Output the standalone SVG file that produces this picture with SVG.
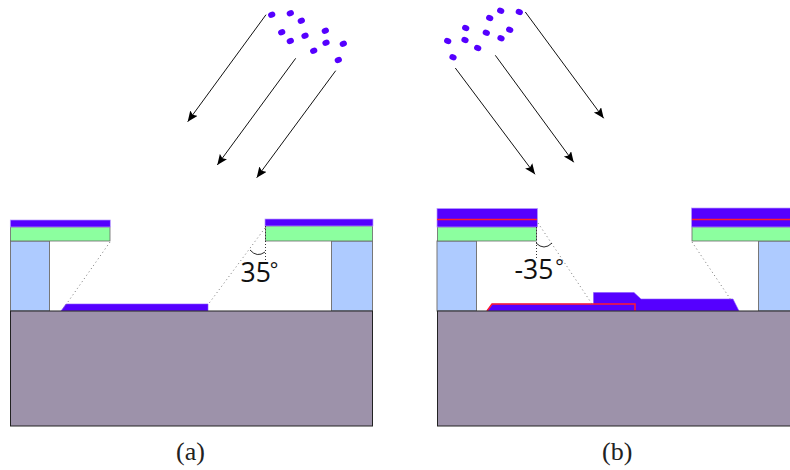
<svg xmlns="http://www.w3.org/2000/svg" width="790" height="470" viewBox="0 0 790 470">
<defs>
<style>
.sub{fill:#9d92aa;stroke:#222;stroke-width:1}
.pil{fill:#aecbff;stroke:#777;stroke-width:1}
.grn{fill:#8cff9f;stroke:#666;stroke-width:.8}
.pur{fill:#5500ff;stroke:#b79aff;stroke-width:.7}
.dep{fill:#5500ff;stroke:#8a55ff;stroke-width:.6}
.red{fill:none;stroke:#ff1a30;stroke-width:1.5}
.dot{fill:none;stroke:#777;stroke-width:1;stroke-dasharray:1 3}
.vdot{fill:none;stroke:#333;stroke-width:1;stroke-dasharray:1 2}
.arc{fill:none;stroke:#111;stroke-width:.9}
.ray{stroke:#111;stroke-width:1;fill:none;marker-end:url(#ah)}
.p{fill:#5500ff}
.ang{font-family:"Open Sans","DejaVu Sans",sans-serif;font-size:26.500px;fill:#111}
.deg{font-size:20px}
.cap{font-family:"Liberation Serif","DejaVu Serif",serif;font-size:26px;fill:#222}
</style>
<marker id="ah" markerUnits="userSpaceOnUse" markerWidth="12" markerHeight="10" refX="10.5" refY="4.5" orient="auto"><path d="M0 0L10.5 4.5L0 9L2 4.5Z" fill="#000"/></marker>
</defs>
<g id="connectors">
<path class="ray" d="M266 14.7L187.700 121.700"/>
<path class="ray" d="M295.700 58.300L217.300 165"/>
<path class="ray" d="M335.700 70.700L256.700 177.700"/>
<path class="ray" d="M525.300 12L603.700 118.300"/>
<path class="ray" d="M495.300 55.300L573.700 162.300"/>
<path class="ray" d="M455.300 68L535 174.300"/>
</g>
<g id="particles-a">
<ellipse class="p" cx="271.700" cy="14.700" rx="3.700" ry="3" transform="rotate(-20 271.700 14.700)"/>
<ellipse class="p" cx="290.300" cy="13.300" rx="3.700" ry="3" transform="rotate(-20 290.300 13.300)"/>
<ellipse class="p" cx="301.300" cy="20.700" rx="3.700" ry="3" transform="rotate(-20 301.300 20.700)"/>
<ellipse class="p" cx="281.700" cy="32.300" rx="3.700" ry="3" transform="rotate(-20 281.700 32.300)"/>
<ellipse class="p" cx="305" cy="35.700" rx="3.700" ry="3" transform="rotate(-20 305 35.700)"/>
<ellipse class="p" cx="290.300" cy="41" rx="3.700" ry="3" transform="rotate(-20 290.300 41)"/>
<ellipse class="p" cx="325.300" cy="30.700" rx="3.700" ry="3" transform="rotate(-20 325.300 30.700)"/>
<ellipse class="p" cx="326" cy="42.700" rx="3.700" ry="3" transform="rotate(-20 326 42.700)"/>
<ellipse class="p" cx="313.700" cy="50.700" rx="3.700" ry="3" transform="rotate(-20 313.700 50.700)"/>
<ellipse class="p" cx="343.300" cy="43.700" rx="3.700" ry="3" transform="rotate(-20 343.300 43.700)"/>
<ellipse class="p" cx="338.300" cy="60" rx="3.700" ry="3" transform="rotate(-20 338.300 60)"/>
</g>
<g id="particles-b">
<ellipse class="p" cx="519.300" cy="12" rx="3.700" ry="3" transform="rotate(20 519.300 12)"/>
<ellipse class="p" cx="500.700" cy="10.700" rx="3.700" ry="3" transform="rotate(20 500.700 10.700)"/>
<ellipse class="p" cx="489.700" cy="18" rx="3.700" ry="3" transform="rotate(20 489.700 18)"/>
<ellipse class="p" cx="465.700" cy="28" rx="3.700" ry="3" transform="rotate(20 465.700 28)"/>
<ellipse class="p" cx="486.300" cy="32.700" rx="3.700" ry="3" transform="rotate(20 486.300 32.700)"/>
<ellipse class="p" cx="509.700" cy="29.700" rx="3.700" ry="3" transform="rotate(20 509.700 29.700)"/>
<ellipse class="p" cx="501" cy="38.300" rx="3.700" ry="3" transform="rotate(20 501 38.300)"/>
<ellipse class="p" cx="465" cy="40" rx="3.700" ry="3" transform="rotate(20 465 40)"/>
<ellipse class="p" cx="477.700" cy="48" rx="3.700" ry="3" transform="rotate(20 477.700 48)"/>
<ellipse class="p" cx="447.700" cy="41" rx="3.700" ry="3" transform="rotate(20 447.700 41)"/>
<ellipse class="p" cx="453" cy="57.300" rx="3.700" ry="3" transform="rotate(20 453 57.300)"/>
</g>
<g id="panel-a">
<rect class="pil" x="10.500" y="241" width="39" height="70"/>
<rect class="pil" x="331.500" y="241" width="41" height="70"/>
<rect class="grn" x="10.500" y="227" width="99.500" height="14"/>
<rect class="grn" x="265.500" y="226" width="107" height="15"/>
<rect class="pur" x="10.300" y="220" width="100" height="7"/>
<rect class="pur" x="265" y="219" width="108" height="7"/>
<path class="dep" d="M61 311L66 304L208 304L208 311Z"/>
<rect class="sub" x="10.500" y="311" width="362" height="115"/>
<path class="dot" d="M110 242L63 309"/>
<path class="dot" d="M265 228L208.500 304"/>
<path class="vdot" d="M265.500 226V263"/>
<path class="arc" d="M250 250Q257 258 265 252"/>
<text class="ang" x="240.500" y="281.500">35<tspan class="deg" dx="-1" dy="-5">°</tspan></text>
<text class="cap" x="176" y="460">(a)</text>
</g>
<g id="panel-b">
<rect class="pil" x="437" y="241" width="39.500" height="70"/>
<rect class="pil" x="758.500" y="241" width="40" height="70"/>
<rect class="grn" x="437.500" y="227" width="99" height="14"/>
<rect class="grn" x="692" y="227" width="106" height="14"/>
<rect class="pur" x="437" y="208.500" width="100.500" height="18.500"/>
<rect class="pur" x="691.500" y="208" width="106" height="19"/>
<path class="red" d="M437 219.500H537"/>
<path class="red" d="M692 219.500H790"/>
<path class="dep" d="M487 311L492 304H593.500V292.500H634L641 299H733L739 311Z"/>
<path class="red" d="M487 311L492 304H635V311"/>
<rect class="sub" x="437.500" y="311" width="362" height="115"/>
<path class="dot" d="M538 223L592 304"/>
<path class="dot" d="M692 242L731 300"/>
<path class="vdot" d="M536.500 227V258"/>
<path class="arc" d="M536 243Q544 251 552 243"/>
<text class="ang" x="514.500" y="278.500">-35<tspan class="deg" dx="2" dy="-5">°</tspan></text>
<text class="cap" x="602" y="460">(b)</text>
</g>
</svg>
